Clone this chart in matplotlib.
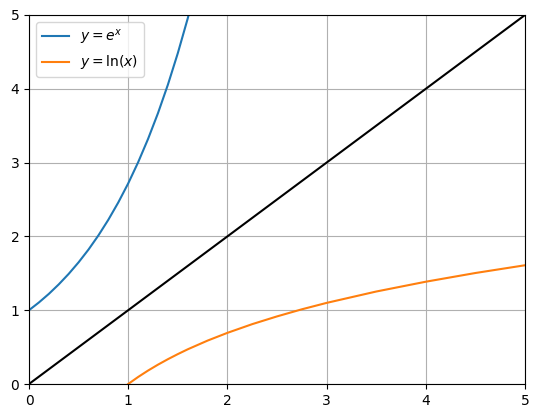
import matplotlib
matplotlib.use("Agg")
import matplotlib.pyplot as plt

# values
exp_x = [0.0, 0.1, 0.2, 0.3, 0.4, 0.5, 0.6, 0.7, 0.8, 0.9, 1.0, 1.1, 1.2, 1.3, 1.4, 1.5, 1.6, 1.7]
exp_y = [1.000, 1.105, 1.221, 1.350, 1.492, 1.649, 1.822, 2.014, 2.226, 2.460, 2.718,
         3.004, 3.320, 3.669, 4.055, 4.482, 4.953, 5.474]

log_x = [1.0, 1.1, 1.2, 1.3, 1.4, 1.5, 1.6, 1.8, 2.0, 2.25, 2.5, 2.75, 3.0, 3.5, 4.0, 4.5, 5.0]
log_y = [0.000, 0.095, 0.182, 0.262, 0.336, 0.405, 0.470, 0.588, 0.693, 0.811, 0.916,
         1.012, 1.099, 1.253, 1.386, 1.504, 1.609]

diag_x = [0, 5]
diag_y = [0, 5]

fig, ax = plt.subplots(figsize=(5.38, 4.18), dpi=100)
fig.subplots_adjust(left=29 / 538, right=525 / 538, top=1 - 15 / 418, bottom=1 - 384 / 418)

ax.plot(exp_x, exp_y, label=r"$y = e^x$")
ax.plot(log_x, log_y, label=r"$y = \ln(x)$")
ax.plot(diag_x, diag_y, color="black")

ax.set_xlim(0, 5)
ax.set_ylim(0, 5)
ax.grid(True)
ax.legend(loc="upper left")

fig.savefig("out.png", dpi=100)
